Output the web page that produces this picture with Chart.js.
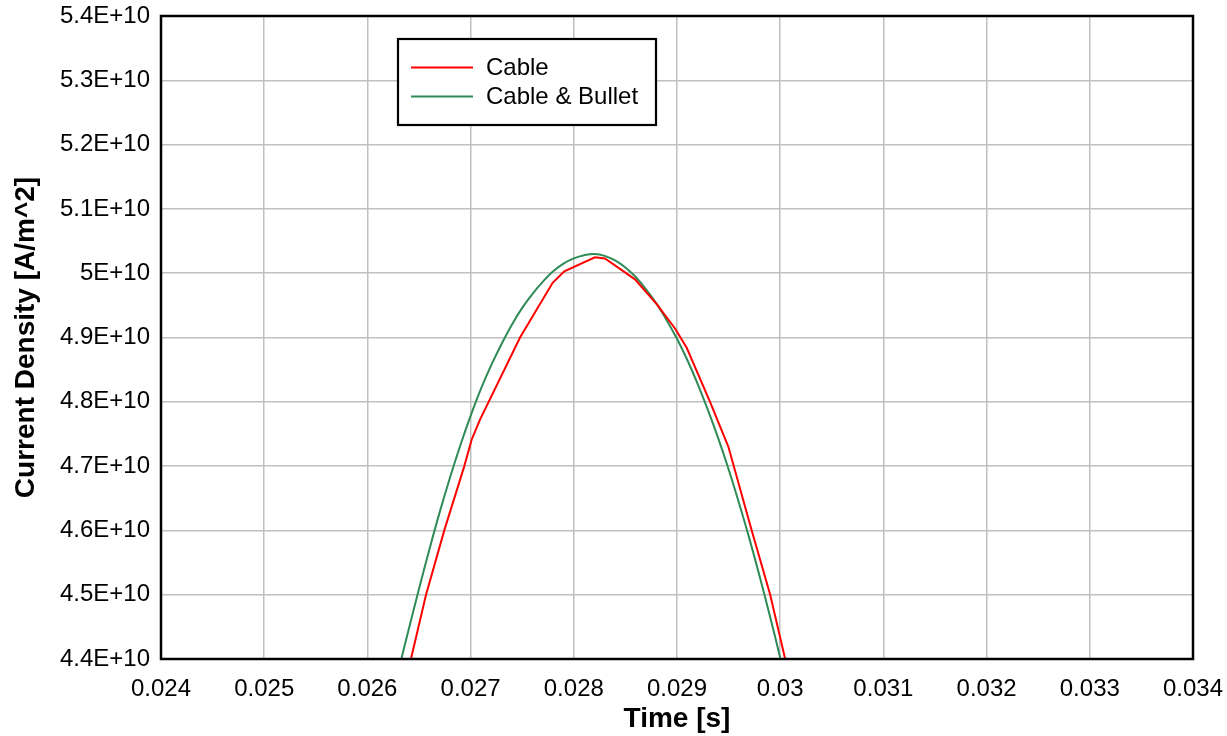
<!DOCTYPE html>
<html>
<head>
<meta charset="utf-8">
<script src="https://cdn.jsdelivr.net/npm/chart.js@4/dist/chart.umd.min.js"></script>
<style>
  html, body { margin: 0; padding: 0; background: #fff; }
  #wrap { width: 1227px; height: 736px; }
</style>
</head>
<body>
<div id="wrap"><canvas id="c" width="1227" height="736"></canvas></div>
<script>
// ---- data ----
const seriesNames = ['Cable', 'Cable & Bullet'];

const timeCable = [0.02630, 0.026422, 0.026568, 0.026745, 0.026939, 0.02701, 0.02709, 0.027479,
  0.027795, 0.027908, 0.028205, 0.028302, 0.028593, 0.028803, 0.028981, 0.029094, 0.029320,
  0.029498, 0.029724, 0.029903, 0.030048, 0.03012];
const densityCable = [4.32e10, 4.40e10, 4.50e10, 4.60e10, 4.70e10, 4.741e10, 4.772e10, 4.90e10,
  4.985e10, 5.003e10, 5.0247e10, 5.023e10, 4.9905e10, 4.952e10, 4.914e10, 4.884e10, 4.80e10,
  4.730e10, 4.60e10, 4.50e10, 4.40e10, 4.35e10];

const timeBullet = [0.0262, 0.0263, 0.0264, 0.0265, 0.0266, 0.0267, 0.0268, 0.0269, 0.0270,
  0.0271, 0.0272, 0.0273, 0.0274, 0.0275, 0.0276, 0.0277, 0.0278, 0.0279, 0.0280, 0.0281,
  0.0282, 0.0283, 0.0284, 0.0285, 0.0286, 0.0287, 0.0288, 0.0289, 0.0290, 0.0291, 0.0292,
  0.0293, 0.0294, 0.0295, 0.0296, 0.0297, 0.0298, 0.0299, 0.0300, 0.0301];
const densityBullet = [4.314e10, 4.381e10, 4.446e10, 4.509e10, 4.570e10, 4.628e10, 4.682e10, 4.732e10, 4.778e10,
  4.820e10, 4.857e10, 4.890e10, 4.920e10, 4.946e10, 4.968e10, 4.987e10, 5.003e10, 5.015e10, 5.023e10, 5.028e10,
  5.030e10, 5.027e10, 5.020e10, 5.009e10, 4.994e10, 4.975e10, 4.953e10, 4.927e10, 4.898e10, 4.865e10, 4.828e10,
  4.787e10, 4.743e10, 4.695e10, 4.643e10, 4.588e10, 4.529e10, 4.467e10, 4.402e10, 4.334e10];

const xTickLabels = ['0.024', '0.025', '0.026', '0.027', '0.028', '0.029', '0.03', '0.031', '0.032', '0.033', '0.034'];
const yTickLabels = ['4.4E+10', '4.5E+10', '4.6E+10', '4.7E+10', '4.8E+10', '4.9E+10', '5E+10', '5.1E+10', '5.2E+10', '5.3E+10', '5.4E+10'];

const xMin = 0.024, xMax = 0.034, xStep = 0.001;
const yMin = 4.4e10, yMax = 5.4e10, yStep = 1e9;

const seriesColors = ['#ff0000', '#2e8b57'];
// ---------------------------------------

const FONT = 'Arial, "Liberation Sans", sans-serif';
Chart.defaults.font.family = FONT;
Chart.defaults.color = '#000';

function pts(xs, ys) { return xs.map((x, i) => ({ x: x, y: ys[i] })); }

const frame = {
  id: 'frame',
  afterDatasetsDraw(chart) {
    const { ctx, chartArea: a } = chart;
    ctx.save();
    ctx.strokeStyle = '#000';
    ctx.lineWidth = 2.5;
    ctx.strokeRect(a.left, a.top, a.right - a.left, a.bottom - a.top);
    ctx.restore();
  }
};

const boxLegend = {
  id: 'boxLegend',
  afterDraw(chart) {
    const ctx = chart.ctx;
    const bx = 398, by = 39, bw = 258, bh = 86;
    ctx.save();
    ctx.fillStyle = '#fff';
    ctx.fillRect(bx, by, bw, bh);
    ctx.strokeStyle = '#000';
    ctx.lineWidth = 2.2;
    ctx.strokeRect(bx, by, bw, bh);
    ctx.font = '24px ' + FONT;
    ctx.textBaseline = 'middle';
    ctx.textAlign = 'left';
    chart.data.datasets.forEach((ds, i) => {
      const y = 67.5 + i * 29;
      ctx.strokeStyle = ds.borderColor;
      ctx.lineWidth = 2;
      ctx.beginPath();
      ctx.moveTo(411, y);
      ctx.lineTo(473, y);
      ctx.stroke();
      ctx.fillStyle = '#000';
      ctx.fillText(ds.label, 486, y + 1);
    });
    ctx.restore();
  }
};

new Chart(document.getElementById('c'), {
  type: 'scatter',
  data: {
    datasets: [
      {
        label: seriesNames[0],
        data: pts(timeCable, densityCable),
        showLine: true,
        borderColor: seriesColors[0],
        backgroundColor: seriesColors[0],
        borderWidth: 2,
        pointRadius: 0,
        tension: 0
      },
      {
        label: seriesNames[1],
        data: pts(timeBullet, densityBullet),
        showLine: true,
        borderColor: seriesColors[1],
        backgroundColor: seriesColors[1],
        borderWidth: 2,
        pointRadius: 0,
        tension: 0.4
      }
    ]
  },
  options: {
    responsive: false,
    animation: false,
    layout: { padding: { left: 0, right: 34, top: 16, bottom: 0 } },
    plugins: {
      legend: { display: false },
      tooltip: { enabled: false }
    },
    scales: {
      x: {
        type: 'linear',
        min: xMin, max: xMax,
        afterFit(s) { s.height = 77; s.paddingLeft = 0; s.paddingRight = 0; },
        ticks: {
          stepSize: xStep,
          font: { size: 24 },
          padding: 16,
          maxRotation: 0,
          autoSkip: false,
          callback: (v, i) => xTickLabels[i]
        },
        grid: { color: '#c0c0c0', lineWidth: 1.5, drawTicks: false },
        border: { display: false },
        title: { display: true, text: 'Time [s]', font: { size: 28, weight: 'bold' }, padding: { top: 0, bottom: 0 } }
      },
      y: {
        type: 'linear',
        min: yMin, max: yMax,
        afterFit(s) { s.width = 161; s.paddingTop = 0; s.paddingBottom = 0; },
        ticks: {
          stepSize: yStep,
          font: { size: 24 },
          padding: 11,
          autoSkip: false,
          callback: (v, i) => yTickLabels[i]
        },
        grid: { color: '#c0c0c0', lineWidth: 1.5, drawTicks: false },
        border: { display: false },
        title: { display: true, text: 'Current Density [A/m^2]', font: { size: 28, weight: 'bold' }, padding: { top: 9, bottom: 0 } }
      }
    }
  },
  plugins: [frame, boxLegend]
});
</script>
</body>
</html>
